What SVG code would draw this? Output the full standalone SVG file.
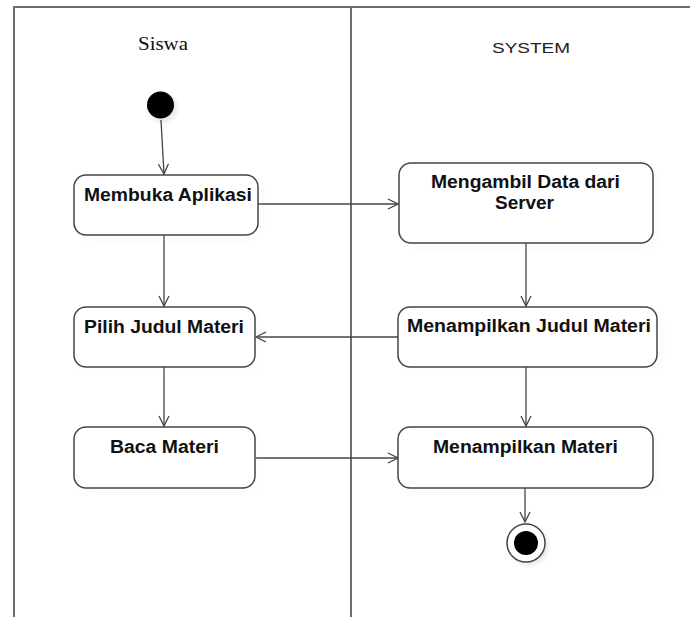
<svg xmlns="http://www.w3.org/2000/svg" width="690" height="617" viewBox="0 0 690 617">
<defs>
<style>
.frame{stroke:#6e6e6e;stroke-width:2;fill:none}
.node rect{fill:#fff;stroke:#444;stroke-width:1.5}
.shadow{fill:#000;opacity:0.08}
.lbl{font-family:"Liberation Sans",Arial,sans-serif;font-weight:bold;font-size:17.5px;fill:#111;text-anchor:middle}
.edge{stroke:#444;stroke-width:1.3;fill:none;marker-end:url(#arr)}
</style>
<marker id="arr" viewBox="0 0 12 12" refX="11" refY="6" markerWidth="12" markerHeight="12" markerUnits="userSpaceOnUse" orient="auto">
<path d="M1,1 L11,6 L1,11" fill="none" stroke="#444" stroke-width="1.3"/>
</marker>
<filter id="blur" x="-10%" y="-10%" width="130%" height="140%"><feGaussianBlur stdDeviation="2.5"/></filter>
</defs>
<rect width="690" height="617" fill="#fff"/>
<g id="lanes">
<path class="frame" d="M14,617 V7 H690"/>
<line class="frame" x1="351" y1="7" x2="351" y2="617"/>
<text x="163" y="50" font-family="'Liberation Serif','Times New Roman',serif" font-size="19" fill="#111" text-anchor="middle" textLength="50" lengthAdjust="spacingAndGlyphs">Siswa</text>
<text x="531" y="53" font-family="'Liberation Sans',Arial,sans-serif" font-size="15.5" fill="#222" text-anchor="middle" textLength="78" lengthAdjust="spacingAndGlyphs">SYSTEM</text>
</g>
<g id="edges">
<path class="edge" d="M161,120 L164,174"/>
<path class="edge" d="M258,204 H398"/>
<path class="edge" d="M164,235 V306"/>
<path class="edge" d="M526,243 V306"/>
<path class="edge" d="M398,337 H256"/>
<path class="edge" d="M164,367 V426"/>
<path class="edge" d="M526,367 V426"/>
<path class="edge" d="M256,458 H398"/>
<path class="edge" d="M525,488 V522"/>
</g>
<g id="start">
<circle cx="163" cy="108" r="14" fill="#000" opacity="0.1" filter="url(#blur)"/>
<circle cx="160.5" cy="105" r="13.5" fill="#000"/>
</g>
<g id="membuka" class="node">
<rect class="shadow" x="78" y="179" width="184" height="60" rx="12" filter="url(#blur)"/>
<rect x="74" y="175" width="184" height="60" rx="12"/>
<text class="lbl" x="168" y="200.5" textLength="168" lengthAdjust="spacingAndGlyphs">Membuka Aplikasi</text>
</g>
<g id="mengambil" class="node">
<rect class="shadow" x="403" y="167" width="254" height="80" rx="12" filter="url(#blur)"/>
<rect x="399" y="163" width="254" height="80" rx="12"/>
<text class="lbl" x="525.5" y="188" textLength="189" lengthAdjust="spacingAndGlyphs">Mengambil Data dari</text>
<text class="lbl" x="524.5" y="209" textLength="59" lengthAdjust="spacingAndGlyphs">Server</text>
</g>
<g id="pilih" class="node">
<rect class="shadow" x="78" y="311" width="181" height="60" rx="12" filter="url(#blur)"/>
<rect x="74" y="307" width="181" height="60" rx="12"/>
<text class="lbl" x="164" y="332.5" textLength="160" lengthAdjust="spacingAndGlyphs">Pilih Judul Materi</text>
</g>
<g id="menampilkanJudul" class="node">
<rect class="shadow" x="402" y="311" width="259" height="60" rx="12" filter="url(#blur)"/>
<rect x="398" y="307" width="259" height="60" rx="12"/>
<text class="lbl" x="529" y="332" textLength="244" lengthAdjust="spacingAndGlyphs">Menampilkan Judul Materi</text>
</g>
<g id="baca" class="node">
<rect class="shadow" x="78" y="431" width="181" height="61" rx="12" filter="url(#blur)"/>
<rect x="74" y="427" width="181" height="61" rx="12"/>
<text class="lbl" x="164.5" y="453" textLength="109" lengthAdjust="spacingAndGlyphs">Baca Materi</text>
</g>
<g id="menampilkanMateri" class="node">
<rect class="shadow" x="402" y="431" width="255" height="61" rx="12" filter="url(#blur)"/>
<rect x="398" y="427" width="255" height="61" rx="12"/>
<text class="lbl" x="525.5" y="453" textLength="185" lengthAdjust="spacingAndGlyphs">Menampilkan Materi</text>
</g>
<g id="end">
<circle cx="529" cy="546" r="19" fill="#000" opacity="0.1" filter="url(#blur)"/>
<circle cx="526" cy="543" r="19" fill="#fff" stroke="#444" stroke-width="1.5"/>
<circle cx="526" cy="543" r="12" fill="#000"/>
</g>
</svg>
